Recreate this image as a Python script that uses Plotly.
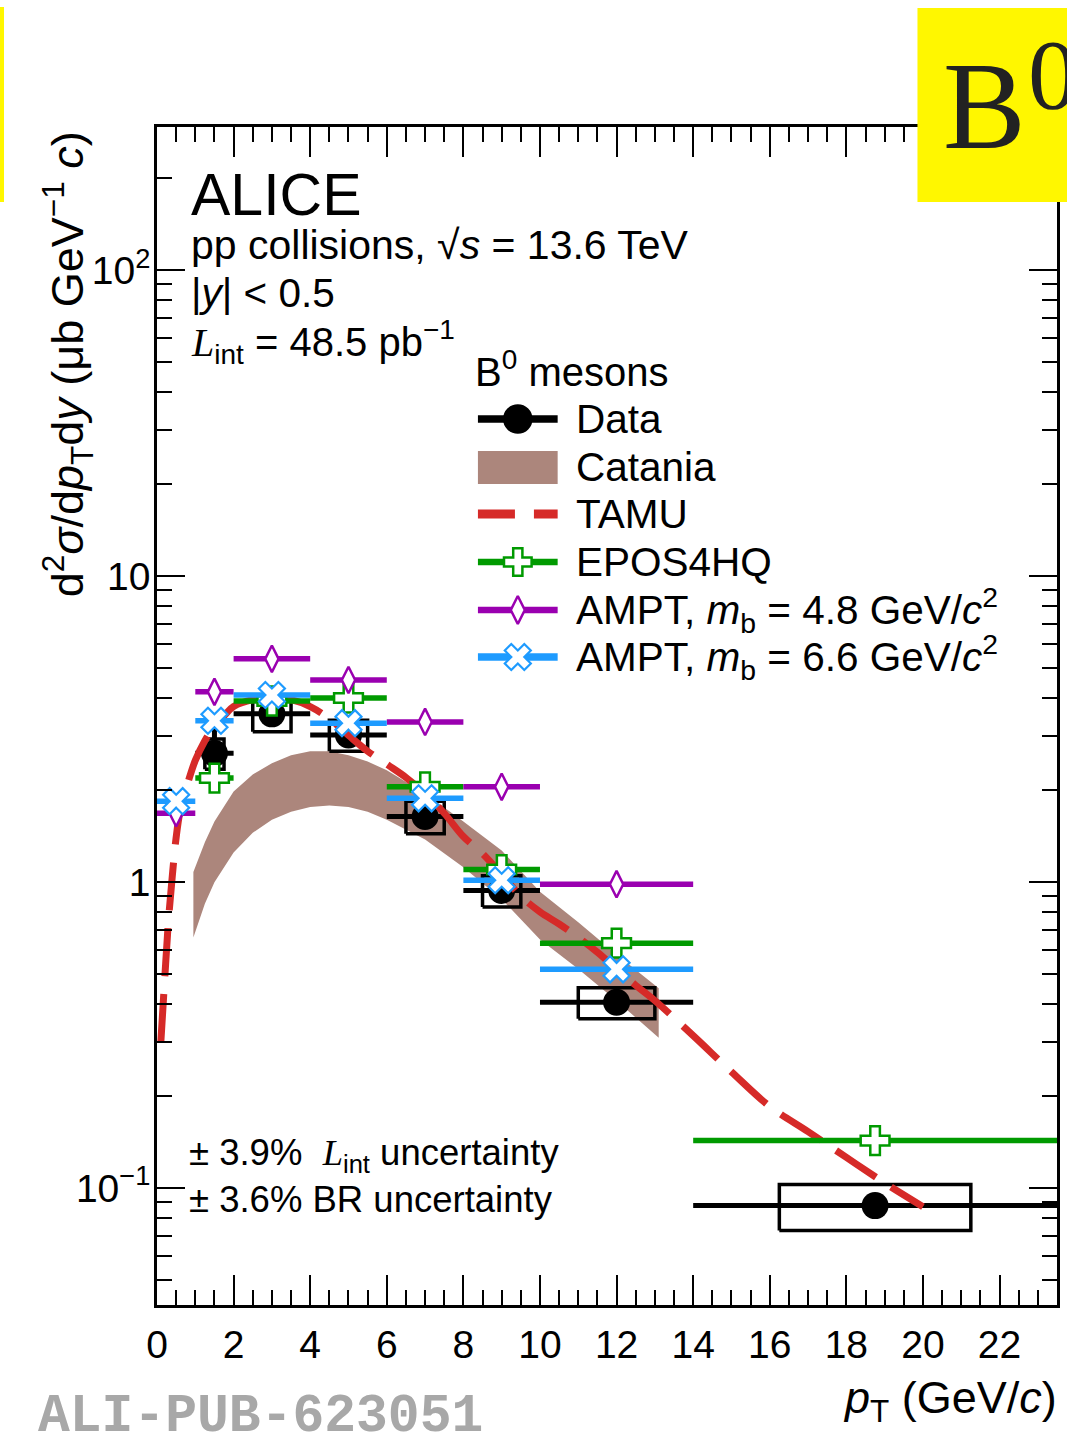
import numpy as np
import plotly.graph_objects as go

# ---------------- data ----------------
# ALICE data: B0 cross section
data_bin_lo = [1, 2, 4, 6, 8, 10, 14]
data_bin_hi = [2, 4, 6, 8, 10, 14, 24]
data_x = [1.5, 3, 5, 7, 9, 12, 18.75]
data_y = [2.64, 3.55, 3.03, 1.64, 0.94, 0.405, 0.0877]
data_stat = [0.55, 0.2, 0.15, 0.07, 0.04, 0.02, 0.006]
data_syst = [0.3, 0.45, 0.35, 0.2, 0.11, 0.047, 0.015]

# EPOS4HQ
epos_bin_lo = [1, 2, 4, 6, 8, 10, 14]
epos_bin_hi = [2, 4, 6, 8, 10, 14, 24]
epos_x = [1.5, 3, 5, 7, 9, 12, 18.75]
epos_y = [2.19, 3.91, 4.0, 2.05, 1.10, 0.632, 0.143]

# AMPT, mb = 4.8
ampt48_bin_lo = [0, 1, 2, 4, 6, 8, 10]
ampt48_bin_hi = [1, 2, 4, 6, 8, 10, 14]
ampt48_x = [0.5, 1.5, 3, 5, 7, 9, 12]
ampt48_y = [1.68, 4.19, 5.37, 4.58, 3.34, 2.05, 0.985]

# AMPT, mb = 6.6
ampt66_bin_lo = [0, 1, 2, 4, 6, 8, 10]
ampt66_bin_hi = [1, 2, 4, 6, 8, 10, 14]
ampt66_x = [0.5, 1.5, 3, 5, 7, 9, 12]
ampt66_y = [1.84, 3.37, 4.09, 3.31, 1.88, 1.015, 0.519]

# TAMU curve
tamu_x = [0.1, 0.2, 0.3, 0.4, 0.5, 0.6, 0.8, 1.0, 1.25, 1.5, 1.75, 2.0, 2.5, 3.0, 3.5,
          4.0, 4.5, 5.0, 5.5, 6.0, 6.5, 7.0, 7.5, 8.0, 8.5, 9.0, 9.5, 10.0, 10.5, 11.0,
          11.5, 12.0, 12.5, 13.0, 14.0, 15.0, 16.0, 17.0, 18.0, 19.0, 20.0]
tamu_y = [0.30, 0.48, 0.75, 1.05, 1.4, 1.7, 2.1, 2.5, 2.9, 3.25, 3.5, 3.75, 3.95, 4.0, 3.95,
          3.75, 3.42, 3.02, 2.68, 2.43, 2.2, 1.95, 1.68, 1.41, 1.24, 1.06, 0.9, 0.80, 0.73, 0.66,
          0.59, 0.52, 0.46, 0.41, 0.315, 0.24, 0.185, 0.153, 0.126, 0.104, 0.087]

# Catania band
cat_x = [0.95, 1.25, 1.5, 2, 2.5, 3, 3.5, 4, 4.5, 5, 5.5, 6, 7, 8, 9, 10, 11, 12, 13.1]
cat_hi = [1.08, 1.35, 1.58, 1.98, 2.25, 2.45, 2.6, 2.68, 2.68, 2.6, 2.48, 2.32, 1.95, 1.58,
          1.27, 0.93, 0.74, 0.58, 0.45]
cat_lo = [0.66, 0.85, 1.0, 1.25, 1.45, 1.6, 1.7, 1.76, 1.78, 1.76, 1.7, 1.6, 1.38, 1.12,
          0.88, 0.65, 0.52, 0.41, 0.31]

y_tick_vals = [0.1, 1, 10, 100]
y_tick_text = ["10<sup>\u22121</sup>", "1", "10", "10<sup>2</sup>"]
x_tick_vals = [0, 2, 4, 6, 8, 10, 12, 14, 16, 18, 20, 22]
x_tick_text = [str(v) for v in x_tick_vals]

# ---------------- layout constants ----------------
W, H = 1067, 1441
PX0, PX1, PY0, PY1 = 157, 1060, 127, 1305
FONT = "Liberation Sans, Arial, sans-serif"
SERIF = "Liberation Serif, Times New Roman, serif"
BLACK = "#000000"
GREEN = "#009a00"
PURPLE = "#9a00b0"
BLUE = "#1e9bff"
RED = "#d62a28"
BROWN = "rgb(172,134,124)"
BOX_FRAC = 0.25


def px(xp):
    return (xp - PX0) / (PX1 - PX0)


def py(yp):
    return (PY1 - yp) / (PY1 - PY0)


fig = go.Figure()

# Catania band
fig.add_trace(go.Scatter(
    x=cat_x + cat_x[::-1], y=cat_hi + cat_lo[::-1], fill="toself", mode="lines",
    line=dict(width=0, color=BROWN), fillcolor=BROWN, hoverinfo="skip", showlegend=False))

# data: systematic boxes
bx, by = [], []
for x, y, s, lo, hi in zip(data_x, data_y, data_syst, data_bin_lo, data_bin_hi):
    hw = BOX_FRAC * (hi - lo)
    bx += [x - hw, x + hw, x + hw, x - hw, x - hw, None]
    by += [y - s, y - s, y + s, y + s, y - s, None]
fig.add_trace(go.Scatter(x=bx, y=by, mode="lines", line=dict(color=BLACK, width=3.5),
                         showlegend=False, hoverinfo="skip"))

# data: points with stat and bin width bars
fig.add_trace(go.Scatter(
    x=data_x, y=data_y, mode="markers",
    marker=dict(symbol="circle", size=27, color=BLACK),
    error_x=dict(type="data", symmetric=False,
                 array=[h - x for h, x in zip(data_bin_hi, data_x)],
                 arrayminus=[x - l for l, x in zip(data_bin_lo, data_x)],
                 color=BLACK, thickness=5, width=0),
    error_y=dict(type="data", array=data_stat, color=BLACK, thickness=5, width=0),
    showlegend=False))

# TAMU
fig.add_trace(go.Scatter(x=tamu_x, y=tamu_y, mode="lines", line_shape="spline",
                         line=dict(color=RED, width=7, dash="48px,18px"),
                         showlegend=False, hoverinfo="skip"))


def model(xv, yv, lo, hi, color, symbol, size, mlw=2.5):
    fig.add_trace(go.Scatter(
        x=xv, y=yv, mode="markers",
        marker=dict(symbol=symbol, size=size, color="white",
                    line=dict(color=color, width=mlw)),
        error_x=dict(type="data", symmetric=False,
                     array=[h - x for h, x in zip(hi, xv)],
                     arrayminus=[x - l for l, x in zip(lo, xv)],
                     color=color, thickness=5.5, width=0),
        showlegend=False))


model(epos_x, epos_y, epos_bin_lo, epos_bin_hi, GREEN, "cross", 24)
model(ampt48_x, ampt48_y, ampt48_bin_lo, ampt48_bin_hi, PURPLE, "diamond-tall", 19)
model(ampt66_x, ampt66_y, ampt66_bin_lo, ampt66_bin_hi, BLUE, "x", 23, 2.2)

# ---------------- legend (drawn on a pixel overlay axis) ----------------
LEG_X0, LEG_X1, LEG_TX = 479, 559, 575
leg_rows = [419, 467, 514, 562, 610, 657]
leg_names = ["Data", "Catania", "TAMU", "EPOS4HQ",
             "AMPT, <i>m</i><sub>b</sub> = 4.8 GeV/<i>c</i><sup>2</sup>",
             "AMPT, <i>m</i><sub>b</sub> = 6.6 GeV/<i>c</i><sup>2</sup>"]
xm = (LEG_X0 + LEG_X1) / 2


def leg_line(y, color, width, dash=None):
    fig.add_trace(go.Scatter(x=[LEG_X0, LEG_X1], y=[y, y], xaxis="x2", yaxis="y2",
                             mode="lines", line=dict(color=color, width=width, dash=dash),
                             showlegend=False, hoverinfo="skip"))


def leg_marker(y, symbol, size, color, fill, mlw=2.5):
    fig.add_trace(go.Scatter(x=[xm], y=[y], xaxis="x2", yaxis="y2", mode="markers",
                             marker=dict(symbol=symbol, size=size, color=fill,
                                         line=dict(color=color, width=mlw)),
                             showlegend=False, hoverinfo="skip"))


leg_line(leg_rows[0], BLACK, 7.5)
leg_marker(leg_rows[0], "circle", 27, BLACK, BLACK)
fig.add_trace(go.Scatter(x=[LEG_X0, LEG_X1, LEG_X1, LEG_X0, LEG_X0],
                         y=[leg_rows[1] - 16, leg_rows[1] - 16, leg_rows[1] + 17,
                            leg_rows[1] + 17, leg_rows[1] - 16],
                         xaxis="x2", yaxis="y2", mode="lines", fill="toself",
                         fillcolor=BROWN, line=dict(width=0, color=BROWN),
                         showlegend=False, hoverinfo="skip"))
leg_line(leg_rows[2], RED, 9, "37px,19px")
leg_line(leg_rows[3], GREEN, 6.5)
leg_marker(leg_rows[3], "cross", 23, GREEN, "white")
leg_line(leg_rows[4], PURPLE, 6.5)
leg_marker(leg_rows[4], "diamond-tall", 20, PURPLE, "white")
leg_line(leg_rows[5], BLUE, 7.5)
leg_marker(leg_rows[5], "x", 23, BLUE, "white", 2.2)

annotations = []


def text(x, y, s, size=36, anchor="left", family=FONT, color=BLACK, angle=0, yanchor="middle"):
    annotations.append(dict(x=px(x), y=py(y), xref="paper", yref="paper", text=s,
                            showarrow=False, xanchor=anchor, yanchor=yanchor,
                            textangle=angle,
                            font=dict(size=size, family=family, color=color)))


for yr, nm in zip(leg_rows, leg_names):
    text(LEG_TX, yr, nm, 40.5)
text(474, 369, "B<sup>0</sup> mesons", 40)

text(189, 195, "ALICE", 59)
text(189, 245, "pp collisions, \u221a<i>s</i> = 13.6 TeV", 41)
text(189, 293, "|<i>y</i>| < 0.5", 40.5)
text(189, 342, "<span style=\"font-family:Liberation Serif\"><i>L</i></span><sub>int</sub>"
     " = 48.5 pb<sup>\u22121</sup>", 40)
text(187, 1155, "\u00b1 3.9%  <span style=\"font-family:Liberation Serif\"><i>L</i></span>"
     "<sub>int</sub> uncertainty", 36.5)
text(187, 1199, "\u00b1 3.6% BR uncertainty", 36.5)

# axis titles
text(67, 364, "d<sup>2</sup><i>\u03c3</i>/d<i>p</i><sub>T</sub>d<i>y</i> "
     "(\u03bcb GeV<sup>\u22121</sup> <i>c</i>)", 45, anchor="center", angle=-90)
text(1062, 1400, "<i>p</i><sub>T</sub> (GeV/<i>c</i>)", 45, anchor="right")

# watermark
text(36, 1417, "ALI-PUB-623051", 53, family="Liberation Mono, Courier New, monospace",
     color="#a8a8a8")
annotations[-1]["font"]["weight"] = "bold"

# yellow label box (top right) and strip (top left)
shapes = [
    dict(type="rect", xref="paper", yref="paper", x0=px(920), x1=px(1075), y0=py(202),
         y1=py(8), fillcolor="#fff700", line=dict(width=0), layer="above"),
    dict(type="rect", xref="paper", yref="paper", x0=px(-5), x1=px(3.5), y0=py(202),
         y1=py(7), fillcolor="#fff700", line=dict(width=0), layer="above"),
]
text(944, 106, "B", 124, family=SERIF, color="#222222")
text(1029, 74, "0", 100, family=SERIF, color="#222222")

fig.update_layout(
    width=W, height=H,
    margin=dict(l=PX0, r=W - PX1, t=PY0, b=H - PY1, pad=0),
    paper_bgcolor="white", plot_bgcolor="white",
    showlegend=False,
    annotations=annotations,
    shapes=shapes,
    xaxis=dict(range=[0, 23.5], tickmode="array", tickvals=x_tick_vals, ticktext=x_tick_text,
               ticks="inside", ticklen=30, tickwidth=2, tickcolor=BLACK,
               showline=True, linewidth=2.5, linecolor=BLACK, mirror="allticks",
               showgrid=False, zeroline=False, ticklabelstandoff=3,
               tickfont=dict(size=39, family=FONT, color=BLACK),
               minor=dict(dtick=0.5, tick0=0, ticks="inside", ticklen=15, tickwidth=2,
                          tickcolor=BLACK, showgrid=False)),
    yaxis=dict(type="log", range=[np.log10(0.0415), np.log10(294)], tickmode="array",
               tickvals=y_tick_vals, ticktext=y_tick_text,
               ticks="inside", ticklen=28, tickwidth=2, tickcolor=BLACK,
               showline=True, linewidth=2.5, linecolor=BLACK, mirror="allticks",
               showgrid=False, zeroline=False, ticklabelstandoff=-4,
               tickfont=dict(size=39, family=FONT, color=BLACK),
               minor=dict(tickmode="array",
                          tickvals=[k * 10.0 ** e for e in range(-2, 3) for k in range(2, 10)],
                          ticks="inside", ticklen=15, tickwidth=2, tickcolor=BLACK,
                          showgrid=False)),
    xaxis2=dict(overlaying="x", range=[PX0, PX1], visible=False, anchor="y2"),
    yaxis2=dict(overlaying="y", range=[PY1, PY0], visible=False, anchor="x2"),
)

fig.write_html("out.html", config={"displayModeBar": False},
               post_script="document.body.style.margin='0';"
                           "document.body.style.overflow='hidden';")
